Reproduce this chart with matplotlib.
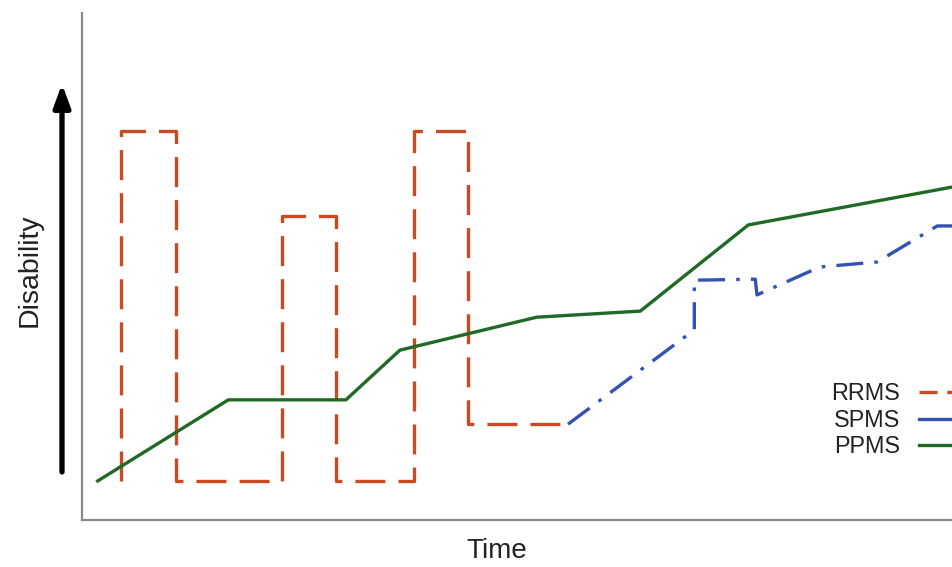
import matplotlib
matplotlib.use("Agg")
import matplotlib.pyplot as plt
from matplotlib.lines import Line2D

plt.rcParams["font.family"] = ["Liberation Sans", "DejaVu Sans"]
plt.rcParams["lines.scale_dashes"] = False

# Course of disability over time for the three MS phenotypes (arbitrary units, 0-100)
rrms_time = [4.5, 4.5, 10.8, 10.8, 23.0, 23.0, 29.2, 29.2, 38.1, 38.1, 44.3, 44.3, 55.8]
rrms_disability = [7.7, 76.7, 76.7, 7.7, 7.7, 60.0, 60.0, 7.7, 7.7, 76.7, 76.7, 18.9, 18.9]

spms_time = [55.8, 70.3, 70.3, 77.3, 77.5, 84.7, 91.3, 98.2, 100.0]
spms_disability = [18.9, 37.5, 47.3, 47.5, 44.4, 49.9, 50.9, 58.0, 58.0]

ppms_time = [1.8, 16.8, 30.3, 36.5, 52.2, 64.1, 76.5, 100.0]
ppms_disability = [7.7, 23.7, 23.7, 33.5, 40.0, 41.2, 58.2, 65.7]

labels = ["RRMS", "SPMS", "PPMS"]
colors = {"RRMS": "#cc4a22", "SPMS": "#3352b2", "PPMS": "#1f6a24"}

W, H = 953, 567
fig = plt.figure(figsize=(W / 100, H / 100), dpi=100)
ax = fig.add_axes([82 / W, (H - 520) / H, 1 - 82 / W, (520 - 13) / H])
ax.set_xlim(0, 100)
ax.set_ylim(0, 100)

lw = 2.4
ax.plot(rrms_time, rrms_disability, color=colors["RRMS"], lw=lw,
        dashes=(21.6, 9.4), solid_joinstyle="miter", clip_on=False)
ax.plot(spms_time, spms_disability, color=colors["SPMS"], lw=lw,
        dashes=(19.4, 8.0, 2.6, 8.0), clip_on=False)
ax.plot(ppms_time, ppms_disability, color=colors["PPMS"], lw=lw, clip_on=False)

# Axes styling: only left and bottom spines, no ticks
for side in ("top", "right"):
    ax.spines[side].set_visible(False)
for side in ("left", "bottom"):
    ax.spines[side].set_color("#8a8a8a")
    ax.spines[side].set_linewidth(1.6)
ax.set_xticks([])
ax.set_yticks([])

ax.set_xlabel("Time", fontsize=20, color="#222222")
ax.xaxis.set_label_coords((497 - 82) / 871, -0.036)
ax.set_ylabel("Disability", fontsize=20.5, color="#222222")
ax.yaxis.set_label_coords((43 - 82) / 871, (520 - 270) / 507)

# Upward arrow beside the y label
ax.annotate("", xy=(62, H - 84), xytext=(62, H - 472), xycoords="figure pixels",
            textcoords="figure pixels",
            arrowprops=dict(arrowstyle="-|>,head_length=1.35,head_width=0.5",
                            lw=3.8, color="black", shrinkA=0, shrinkB=0))

handles = [
    Line2D([], [], color=colors["RRMS"], lw=lw, dashes=(13, 7)),
    Line2D([], [], color=colors["SPMS"], lw=lw),
    Line2D([], [], color=colors["PPMS"], lw=lw),
]
leg = ax.legend(handles, labels, loc="upper left", markerfirst=False,
                bbox_to_anchor=(831 / W, (H - 382) / H), bbox_transform=fig.transFigure,
                frameon=False, fontsize=16.8, handlelength=3.0, handletextpad=0.8,
                labelspacing=0.16, borderpad=0, borderaxespad=0)
for t in leg.get_texts():
    t.set_color("#222222")

fig.savefig("out.png", dpi=100)
